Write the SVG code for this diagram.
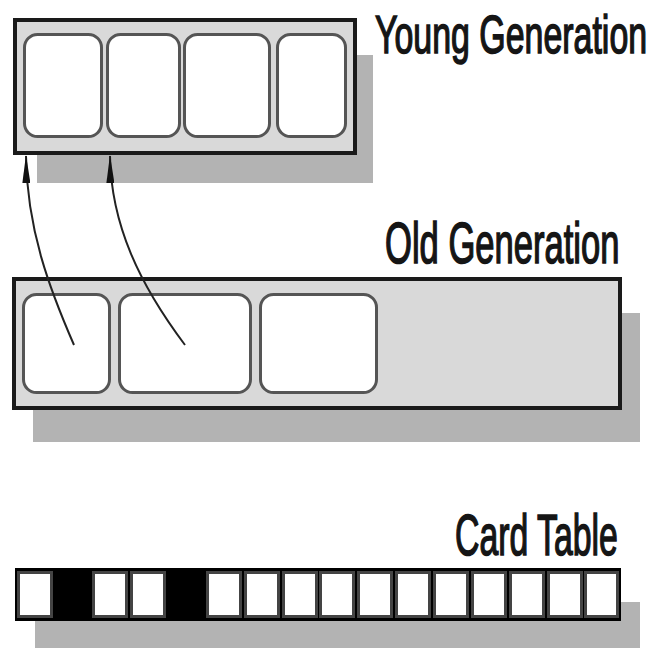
<svg xmlns="http://www.w3.org/2000/svg" width="652" height="650" viewBox="0 0 652 650">
<style>
.shadow{fill:#b3b3b3}
.box{fill:#d9d9d9;stroke:#1a1a1a;stroke-width:4}
.cell{fill:#ffffff;stroke:#555555;stroke-width:3}
.label{font-family:"Liberation Sans",Arial,sans-serif;font-weight:normal;fill:#151515;stroke:#151515;stroke-width:1.6}
.card{fill:#ffffff;stroke:#444444;stroke-width:3}
.mark{fill:#000000;stroke:#000000;stroke-width:3}
.conn{fill:none;stroke:#222222;stroke-width:2}
</style>
<defs>
<marker id="ah" viewBox="0 0 28 8" refX="27" refY="4" markerWidth="28" markerHeight="8" markerUnits="userSpaceOnUse" orient="auto">
<path d="M0,0 L28,4 L0,8 Z" fill="#111111"/>
</marker>
</defs>
<rect width="652" height="650" fill="#ffffff"/>
<g id="young-generation">
<rect class="shadow" x="37" y="55" width="336" height="128"/>
<rect class="box" x="15" y="20" width="340" height="133"/>
<rect class="cell" x="24.5" y="34.5" width="77" height="102" rx="13"/>
<rect class="cell" x="107.5" y="34.5" width="72" height="102" rx="13"/>
<rect class="cell" x="184.5" y="34.5" width="85" height="102" rx="13"/>
<rect class="cell" x="277.5" y="34.5" width="68" height="102" rx="13"/>
<text class="label" font-size="54" transform="translate(375,53) scale(0.628,1)">Young Generation</text>
</g>
<g id="old-generation">
<rect class="shadow" x="33" y="313" width="607" height="129"/>
<rect class="box" x="14" y="279" width="606" height="129"/>
<rect class="cell" x="23.5" y="294.5" width="86" height="98" rx="13"/>
<rect class="cell" x="119.5" y="294.5" width="131" height="98" rx="13"/>
<rect class="cell" x="260.5" y="294.5" width="116" height="98" rx="13"/>
<text class="label" font-size="57" transform="translate(385,263) scale(0.607,1)">Old Generation</text>
</g>
<g id="card-table">
<rect class="shadow" x="35" y="602" width="605" height="46"/>
<rect x="15" y="568" width="606" height="53" fill="#000000"/>
<g>
<rect class="card" x="18.5" y="572.5" width="33" height="44"/>
<rect class="mark" x="54.5" y="572.5" width="34" height="44"/>
<rect class="card" x="93.5" y="572.5" width="33" height="44"/>
<rect class="card" x="131.5" y="572.5" width="33" height="44"/>
<rect class="mark" x="168.5" y="572.5" width="34" height="44"/>
<rect class="card" x="207.5" y="572.5" width="33" height="44"/>
<rect class="card" x="245.5" y="572.5" width="33" height="44"/>
<rect class="card" x="283.5" y="572.5" width="33" height="44"/>
<rect class="card" x="320.5" y="572.5" width="33" height="44"/>
<rect class="card" x="358.5" y="572.5" width="33" height="44"/>
<rect class="card" x="396.5" y="572.5" width="33" height="44"/>
<rect class="card" x="434.5" y="572.5" width="33" height="44"/>
<rect class="card" x="472.5" y="572.5" width="33" height="44"/>
<rect class="card" x="510.5" y="572.5" width="33" height="44"/>
<rect class="card" x="548.5" y="572.5" width="33" height="44"/>
<rect class="card" x="585.5" y="572.5" width="32" height="44"/>
</g>
<text class="label" font-size="58" transform="translate(455,555) scale(0.583,1)">Card Table</text>
</g>
<g id="connectors">
<path class="conn" d="M74,345 C50,290 27,230 26,156" marker-end="url(#ah)"/>
<path class="conn" d="M185,345 C140,285 111,225 110,156" marker-end="url(#ah)"/>
</g>
</svg>
